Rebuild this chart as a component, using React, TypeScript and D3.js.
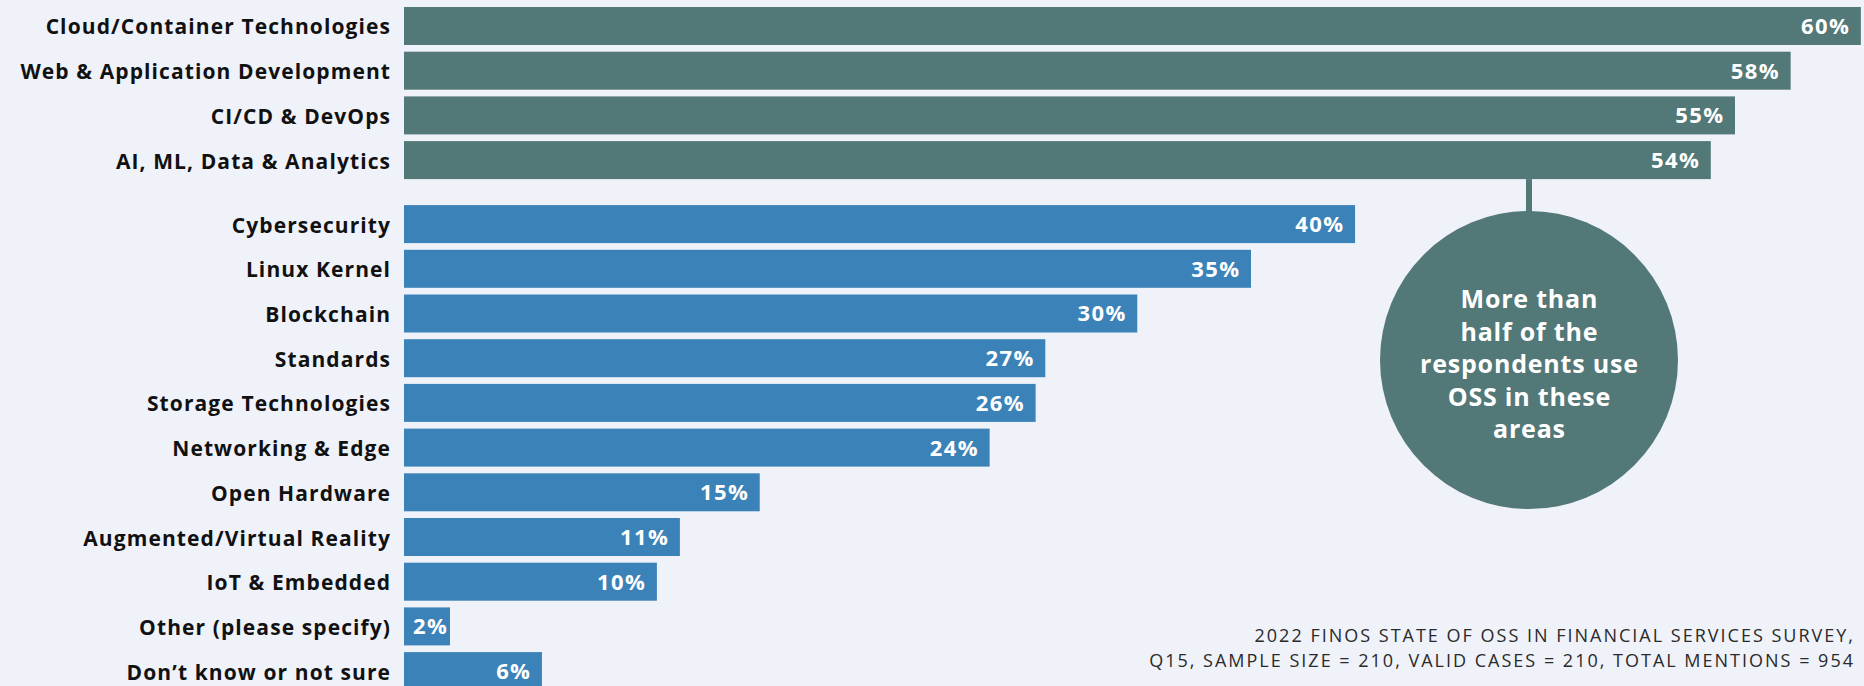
import React from "react";
import * as d3 from "d3";

const categories = [
  "Cloud/Container Technologies",
  "Web & Application Development",
  "CI/CD & DevOps",
  "AI, ML, Data & Analytics",
  "Cybersecurity",
  "Linux Kernel",
  "Blockchain",
  "Standards",
  "Storage Technologies",
  "Networking & Edge",
  "Open Hardware",
  "Augmented/Virtual Reality",
  "IoT & Embedded",
  "Other (please specify)",
  "Don\u2019t know or not sure",
];

// bar lengths (percent of respondents)
const values = [60.2, 57.3, 55.0, 54.0, 39.3, 35.0, 30.3, 26.5, 26.1, 24.2, 14.7, 11.4, 10.45, 1.9, 5.7];
// printed value labels
const valueLabels = ["60%", "58%", "55%", "54%", "40%", "35%", "30%", "27%", "26%", "24%", "15%", "11%", "10%", "2%", "6%"];
// group 0 = highlighted (more than half), group 1 = others
const groups = [0, 0, 0, 0, 1, 1, 1, 1, 1, 1, 1, 1, 1, 1, 1];

const calloutLines = ["More than", "half of the", "respondents use", "OSS in these", "areas"];
const footnoteLines = [
  "2022 FINOS STATE OF OSS IN FINANCIAL SERVICES SURVEY,",
  "Q15, SAMPLE SIZE = 210, VALID CASES = 210, TOTAL MENTIONS = 954",
];

const W = 1864;
const H = 686;
const BG = "#EFF2F9";
const TEAL = "#527877";
const BLUE = "#3B82B8";
const FONT = "'Open Sans', 'Noto Sans', sans-serif";

export default function App() {
  const x = d3.scaleLinear().domain([0, 60]).range([404, 1856]);
  const y = d3
    .scaleBand<string>()
    .domain(categories)
    .range([7, 670.8])
    .paddingInner(0.15)
    .paddingOuter(0);
  const groupGap = 19.3;
  const bw = y.bandwidth();
  const yPos = (i: number) => (y(categories[i]) as number) + (groups[i] === 1 ? groupGap : 0);

  const lastHi = groups.lastIndexOf(0);
  const cx = 1529;
  const cy = 360;
  const r = 149;
  const lineTop = yPos(lastHi) + bw;

  const catLS = 1.1;
  const valLS = 1.4;
  const callLS = 0.8;
  const footLS = 2;

  return (
    <div style={{ position: "fixed", left: 0, top: 0, width: W, height: H, background: BG }}>
      <svg width={W} height={H} style={{ display: "block" }}>
        <rect x={0} y={0} width={W} height={H} fill={BG} />
        {categories.map((c, i) => {
          const y0 = yPos(i);
          const x1 = x(values[i]);
          const x0 = x(0);
          const small = x1 - x0 < 60;
          return (
            <g key={c}>
              <rect x={x0} y={y0} width={x1 - x0} height={bw} fill={groups[i] === 0 ? TEAL : BLUE} />
              <text
                x={x0 - 14 + catLS}
                y={y0 + bw / 2 + 8.5}
                textAnchor="end"
                fontFamily={FONT}
                fontWeight={700}
                fontSize={21}
                letterSpacing={catLS}
                fill="#111111"
              >
                {c}
              </text>
              <text
                x={small ? x0 + 9 : x1 - 12 + valLS}
                y={y0 + bw / 2 + 8}
                textAnchor={small ? "start" : "end"}
                fontFamily={FONT}
                fontWeight={700}
                fontSize={22}
                letterSpacing={valLS}
                fill="#FFFFFF"
              >
                {valueLabels[i]}
              </text>
            </g>
          );
        })}
        <rect x={cx - 3} y={lineTop} width={6} height={cy - r - lineTop + 2} fill={TEAL} />
        <circle cx={cx} cy={cy} r={r} fill={TEAL} />
        {calloutLines.map((l, i) => (
          <text
            key={l}
            x={cx + callLS / 2}
            y={308 + i * 32.5}
            textAnchor="middle"
            fontFamily={FONT}
            fontWeight={700}
            fontSize={25}
            letterSpacing={callLS}
            fill="#FFFFFF"
          >
            {l}
          </text>
        ))}
        {footnoteLines.map((l, i) => (
          <text
            key={l}
            x={1853 + footLS}
            y={642 + i * 25}
            textAnchor="end"
            fontFamily={FONT}
            fontWeight={400}
            fontSize={18}
            letterSpacing={footLS}
            fill="#2A2A2A"
          >
            {l}
          </text>
        ))}
      </svg>
    </div>
  );
}
